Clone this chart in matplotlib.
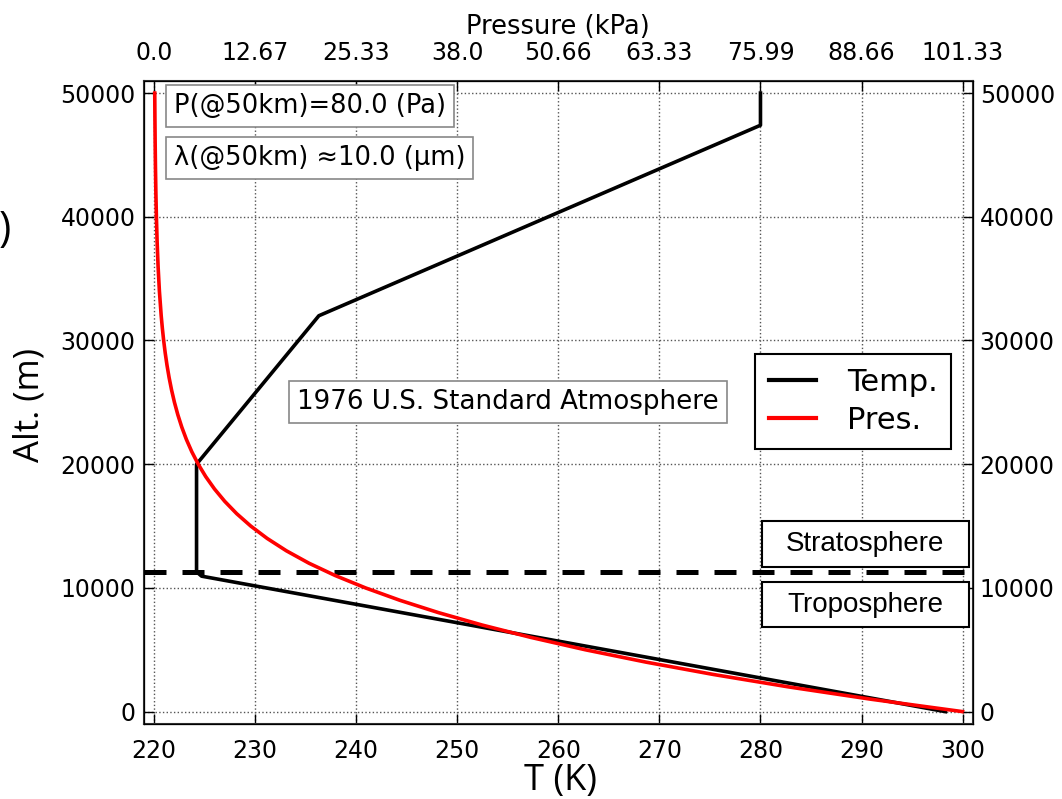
import matplotlib
matplotlib.use("Agg")
import matplotlib.pyplot as plt
from matplotlib.lines import Line2D
from matplotlib.patches import Rectangle

# ---- data ----
alt_T = [0, 10950, 11300, 20000, 32000, 47400, 50000]
temp_K = [298.3, 224.7, 224.2, 224.2, 236.3, 280.0, 280.0]

alt_P = [0, 1000, 2000, 3000, 4000, 5000, 6000, 7000, 8000, 9000, 10000,
         11000, 12000, 13000, 14000, 15000, 16000, 17000, 18000, 19000, 20000,
         21000, 22000, 23000, 24000, 25000, 26000, 27000, 28000, 29000, 30000,
         31000, 32000, 34000, 36000, 38000, 40000, 42000, 44000, 46000, 48000, 50000]
pres_kPa = [101.325, 89.876, 79.501, 70.121, 61.660, 54.048, 47.217, 41.105,
            35.651, 30.800, 26.500, 22.700, 19.399, 16.580, 14.170, 12.111,
            10.353, 8.850, 7.565, 6.467, 5.529, 4.729, 4.047, 3.467, 2.972,
            2.549, 2.188, 1.880, 1.616, 1.390, 1.197, 1.032, 0.889, 0.663,
            0.498, 0.377, 0.287, 0.220, 0.169, 0.131, 0.102, 0.080]

tropopause_alt = 11300
T_ticks = [220, 230, 240, 250, 260, 270, 280, 290, 300]
P_ticks = [0.0, 12.666, 25.331, 37.997, 50.663, 63.328, 75.994, 88.659, 101.325]
P_ticklabels = ["0.0", "12.67", "25.33", "38.0", "50.66", "63.33", "75.99", "88.66", "101.33"]
alt_ticks = [0, 10000, 20000, 30000, 40000, 50000]

W, H = 1062, 799
fig = plt.figure(figsize=(W / 100, H / 100), dpi=100)

def fx(x):
    return x / W

def fy(y):
    return 1 - y / H

left, right, top, bottom = 144, 972.7, 80.7, 724
ax = fig.add_axes([fx(left), fy(bottom), fx(right) - fx(left), fy(top) - fy(bottom)])

TL = 17
ax.plot(temp_K, alt_T, color="black", lw=2.6, zorder=3)
ax.axhline(tropopause_alt, color="black", lw=3.6, ls=(0, (4.4, 3.2)), zorder=4)
ax.set_xlim(219, 301)
ax.set_ylim(-1000, 51000)
ax.set_xticks(T_ticks)
ax.set_yticks(alt_ticks)
ax.grid(True, ls=":", color="#555555", lw=1.0)
ax.tick_params(direction="in", length=7, width=1, labelsize=TL, pad=6)
ax.tick_params(axis="x", pad=11)
for s in ax.spines.values():
    s.set_linewidth(1.5)
    s.set_color("#333333")

# top pressure axis
axp = ax.twiny()
P_at_Tlo = (219 - 220) / 80 * 101.325
P_at_Thi = (301 - 220) / 80 * 101.325
axp.plot(pres_kPa, alt_P, color="red", lw=2.6, zorder=3)
axp.set_xlim(P_at_Tlo, P_at_Thi)
axp.set_xticks(P_ticks)
axp.set_xticklabels(P_ticklabels)
axp.tick_params(direction="in", length=7, width=1, labelsize=TL, pad=11)
axp.set_xlabel("Pressure (kPa)", fontsize=18.5, labelpad=5)

# right altitude axis
axr = ax.twinx()
axr.set_ylim(ax.get_ylim())
axr.set_yticks(alt_ticks)
axr.tick_params(direction="in", length=7, width=1, labelsize=TL, pad=5)

# axis labels
fig.text(fx(30), fy(405), "Alt. (m)", rotation=90, ha="center", va="center",
         fontsize=25, family="Open Sans")
fig.text(fx(560), fy(781), "T (K)", ha="center", va="center",
         fontsize=26, family="Open Sans")
fig.text(fx(-1), fy(230), ")", ha="left", va="center",
         fontsize=30, family="Open Sans")

# annotation boxes
box_kw = dict(boxstyle="square,pad=0.3", fc="white", ec="#888888", lw=1.2)
fig.text(fx(174), fy(106), "P(@50km)=80.0 (Pa)", ha="left", va="center",
         fontsize=18.5, bbox=box_kw)
fig.text(fx(174), fy(158), "λ(@50km) ≈10.0 (µm)", ha="left", va="center",
         fontsize=18.5, bbox=box_kw)
fig.text(fx(508), fy(402), "1976 U.S. Standard Atmosphere", ha="center", va="center",
         fontsize=18.8, bbox=box_kw)

# legend
handles = [Line2D([], [], color="black", lw=3), Line2D([], [], color="red", lw=3)]
leg = fig.legend(handles, ["Temp.", "Pres."], loc="upper left",
                 bbox_to_anchor=(fx(755), fy(354)), fontsize=22, frameon=True,
                 fancybox=False, borderaxespad=0, handlelength=1.55,
                 handletextpad=1.0, borderpad=0.45, labelspacing=0.3)
leg.get_frame().set_edgecolor("black")
leg.get_frame().set_linewidth(1.5)
leg.get_frame().set_alpha(1)

# stratosphere / troposphere boxes
for (y0, y1, label) in [(520.7, 566.7, "Stratosphere"), (581.7, 627.3, "Troposphere")]:
    fig.patches.append(Rectangle((fx(762), fy(y1)), fx(968.7) - fx(762), fy(y0) - fy(y1),
                                 transform=fig.transFigure, fc="white", ec="black",
                                 lw=1.5, zorder=5))
    fig.text(fx(865), fy((y0 + y1) / 2), label, ha="center", va="center",
             fontsize=20, family="Liberation Sans", zorder=6)

fig.savefig("out.png", dpi=100)
